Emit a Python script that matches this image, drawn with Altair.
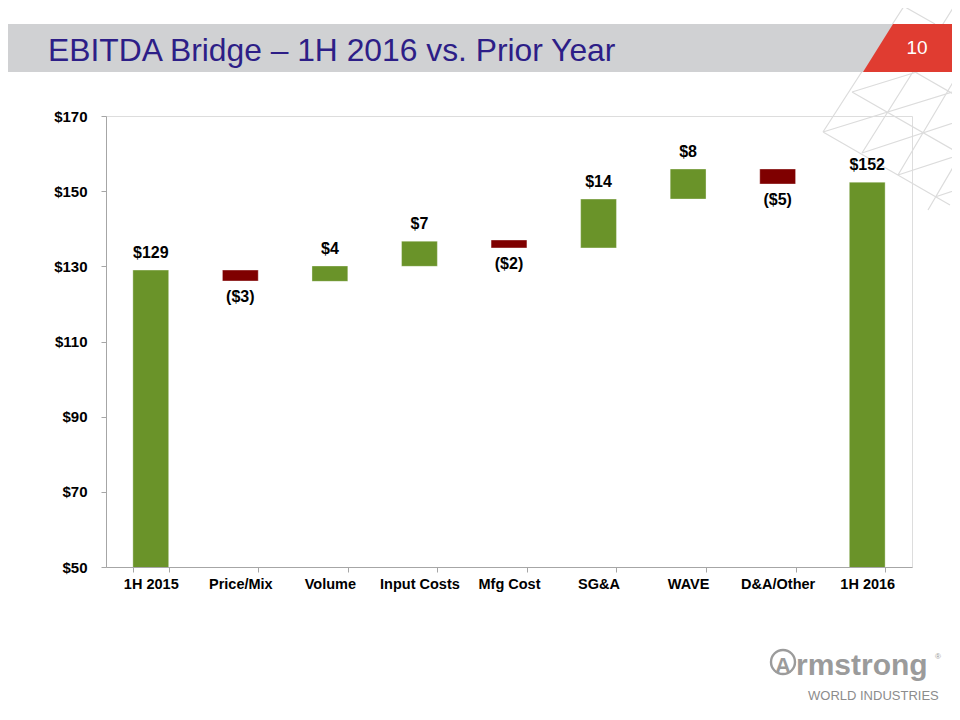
import altair as alt
import pandas as pd

categories = ["1H 2015", "Price/Mix", "Volume", "Input Costs", "Mfg Cost",
              "SG&A", "WAVE", "D&A/Other", "1H 2016"]
bar_start = [0, 129.0, 126.0, 130.0, 137.0, 134.9, 147.9, 155.9, 0]
bar_end = [129.0, 126.1, 130.1, 136.7, 134.9, 147.9, 155.9, 151.9, 152.4]
labels = ["$129", "($3)", "$4", "$7", "($2)", "$14", "$8", "($5)", "$152"]
direction = ["up", "down", "up", "up", "down", "up", "up", "down", "up"]
y_ticks = [50, 70, 90, 110, 130, 150, 170]

GREEN = "#6A9329"
RED = "#7F0000"
AXIS_GRAY = "#A6A6A6"
FONT = "Liberation Sans"

df = pd.DataFrame({
    "cat": categories,
    "lo": [min(a, b) for a, b in zip(bar_start, bar_end)],
    "hi": [max(a, b) for a, b in zip(bar_start, bar_end)],
    "label": labels,
    "direction": direction,
})
one = pd.DataFrame({"k": [0]})

x_enc = alt.X(
    "cat:N", sort=categories, title=None,
    scale=alt.Scale(paddingInner=0.6, paddingOuter=0.3),
    axis=alt.Axis(labelAngle=0, labelFont=FONT, labelFontSize=14.5,
                  labelFontWeight="bold", labelColor="#000000",
                  domainColor=AXIS_GRAY, tickColor=AXIS_GRAY, tickSize=5,
                  tickBand="extent", labelPadding=5, domainWidth=1),
)
y_scale = alt.Scale(domain=[50, 170], nice=False, zero=False)
y_axis = alt.Axis(values=y_ticks, labelExpr="'$' + datum.value", title=None,
                  grid=False, labelFont=FONT, labelFontSize=15,
                  labelFontWeight="bold", labelColor="#000000",
                  domainColor=AXIS_GRAY, tickColor=AXIS_GRAY, tickSize=5,
                  labelPadding=14)

bars = alt.Chart(df).mark_bar(clip=True, stroke="#FFFFFF", strokeOpacity=0.35,
                              strokeWidth=1).encode(
    x=x_enc,
    y=alt.Y("lo:Q", scale=y_scale, axis=y_axis),
    y2="hi:Q",
    color=alt.Color("direction:N", legend=None,
                    scale=alt.Scale(domain=["up", "down"], range=[GREEN, RED])),
)

lab_up = alt.Chart(df).transform_filter("datum.direction == 'up'").mark_text(
    font=FONT, fontSize=16, fontWeight="bold", color="#000000",
    baseline="alphabetic", dy=-12).encode(
    x=x_enc, y=alt.Y("hi:Q", scale=y_scale, axis=y_axis), text="label:N")

lab_down = alt.Chart(df).transform_filter("datum.direction == 'down'").mark_text(
    font=FONT, fontSize=16, fontWeight="bold", color="#000000",
    baseline="top", dy=8).encode(
    x=x_enc, y=alt.Y("lo:Q", scale=y_scale, axis=y_axis), text="label:N")

# decorations (pixel positions relative to plot origin)
lattice_path = ("M0.18,-1 L-0.67,0.32 M0.68,-1 L-0.28,0.53 M0.72,-0.33 L0.08,0.75 "
                "M0.72,0.52 L0.38,1.1 M-0.67,0.32 L0.72,-0.11 M-0.28,0.53 L0.72,0.2 "
                "M0.08,0.75 L0.72,0.54 M-0.38,-0.08 L0.3,-0.29 M0.15,-0.93 L0.38,-1 "
                "M-0.38,-0.08 L0.72,0.55 M-0.67,0.32 L0.6,1.05 M0.25,-0.28 L0.72,-0.01 "
                "M0.15,-0.93 L0.45,-0.76 M0.45,0.97 L0.72,0.88")
lattice = alt.Chart(one).mark_point(
    shape=lattice_path, filled=False, stroke="#DCDCDC", strokeWidth=1.2,
    opacity=1, size=40000).encode(x=alt.value(784), y=alt.value(-16))

band = alt.Chart(one).mark_rect(color="#D0D1D3").encode(
    x=alt.value(-110), x2=alt.value(794), y=alt.value(-92), y2=alt.value(-44))

red_shape = alt.Chart(one).mark_point(
    shape="M-0.17,-0.24 L0.6,-0.24 L0.6,0.24 L-0.47,0.24 Z", filled=True,
    fill="#E03C31", strokeWidth=0, opacity=1, size=40000).encode(
    x=alt.value(804), y=alt.value(-68))

title = alt.Chart(one).mark_text(
    text="EBITDA Bridge \u2013 1H 2016 vs. Prior Year", font=FONT, fontSize=31.8,
    color="#2D1E87", align="left", baseline="alphabetic").encode(
    x=alt.value(-58), y=alt.value(-55.5))

page_no = alt.Chart(one).mark_text(
    text="10", font="Liberation Sans Narrow, Liberation Sans", fontSize=19,
    color="#FFFFFF", align="center", baseline="alphabetic").encode(
    x=alt.value(811), y=alt.value(-62.5))

logo_circle = alt.Chart(one).mark_point(
    shape="circle", filled=False, stroke="#9B9B9B", strokeWidth=2.4, opacity=1,
    size=576).encode(x=alt.value(677), y=alt.value(546))
logo_a = alt.Chart(one).mark_text(
    text="A", font=FONT, fontSize=22, fontWeight="bold", color="#9B9B9B",
    align="center", baseline="alphabetic").encode(x=alt.value(677), y=alt.value(557))
logo_rest = alt.Chart(one).mark_text(
    text="rmstrong", font=FONT, fontSize=30, fontWeight="bold", color="#9B9B9B",
    align="left", baseline="alphabetic").encode(x=alt.value(690), y=alt.value(559))
logo_reg = alt.Chart(one).mark_text(
    text="\u00ae", font=FONT, fontSize=8, color="#9B9B9B",
    align="left", baseline="alphabetic").encode(x=alt.value(829), y=alt.value(543))
logo_sub = alt.Chart(one).mark_text(
    text="WORLD INDUSTRIES", font=FONT, fontSize=13, color="#8C8C8C",
    align="left", baseline="alphabetic").encode(x=alt.value(702), y=alt.value(584))

chart = alt.layer(
    lattice, band, red_shape, title, page_no,
    bars, lab_up, lab_down,
    logo_circle, logo_a, logo_rest, logo_reg, logo_sub,
).properties(
    width=806, height=451,
    padding={"left": 98, "top": 108, "right": 40, "bottom": 139},
    autosize=alt.AutoSizeParams(type="none"),
).configure_view(stroke=None).configure(background="#FFFFFF")

chart.save("out.html", embed_options={"renderer": "svg", "actions": False})
